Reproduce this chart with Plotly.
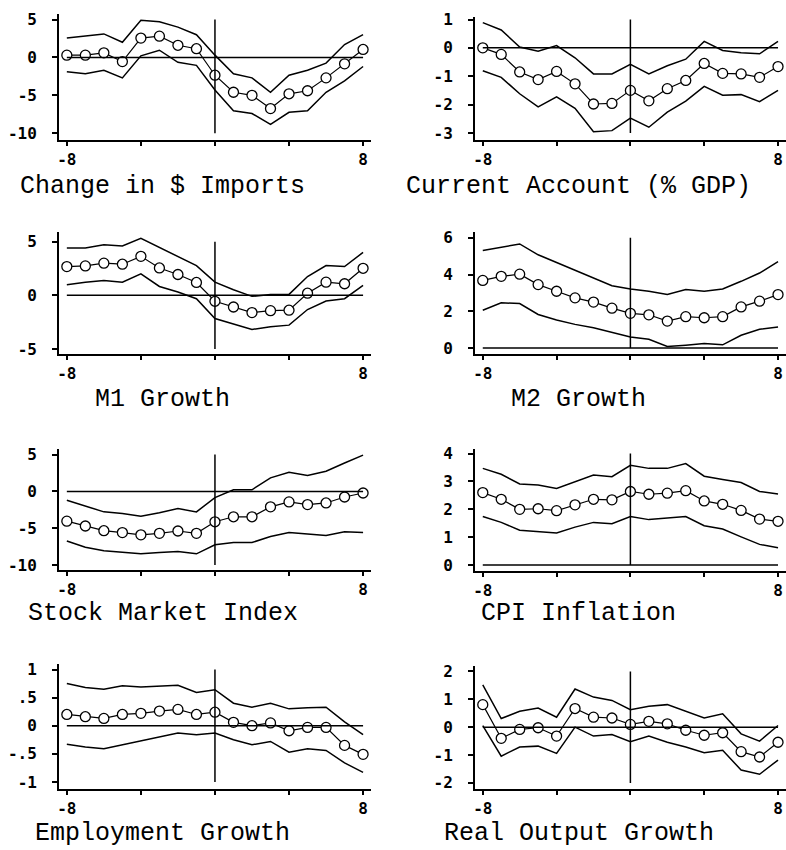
import plotly.graph_objects as go

# ---------------- data ----------------
horizon = list(range(-8, 9))

imports_mid = [0.3, 0.3, 0.6, -0.55, 2.55, 2.8, 1.6, 1.15, -2.35, -4.6, -5.0, -6.75, -4.8, -4.4, -2.7, -0.85, 1.05]
imports_hi = [2.55, 2.85, 3.1, 2.0, 4.9, 4.7, 4.0, 3.0, 0.3, -2.15, -2.7, -4.6, -2.35, -1.7, -0.75, 1.7, 3.0]
imports_lo = [-1.9, -2.15, -1.7, -2.7, 0.2, 0.95, -0.65, -1.05, -4.3, -7.05, -7.4, -8.85, -7.25, -7.05, -4.6, -3.1, -1.2]

ca_mid = [0.0, -0.23, -0.85, -1.12, -0.83, -1.27, -1.98, -1.96, -1.5, -1.87, -1.44, -1.15, -0.55, -0.9, -0.92, -1.04, -0.66]
ca_hi = [0.89, 0.63, 0.03, -0.12, 0.08, -0.35, -0.92, -0.92, -0.58, -0.92, -0.63, -0.4, 0.23, -0.09, -0.17, -0.21, 0.23]
ca_lo = [-0.81, -1.04, -1.62, -2.08, -1.73, -2.13, -2.96, -2.92, -2.48, -2.8, -2.27, -1.88, -1.36, -1.67, -1.65, -1.9, -1.5]

m1_mid = [2.68, 2.74, 3.0, 2.9, 3.63, 2.55, 1.94, 1.2, -0.55, -1.08, -1.6, -1.42, -1.38, 0.2, 1.23, 1.08, 2.52]
m1_hi = [4.4, 4.4, 4.7, 4.6, 5.3, 4.46, 3.6, 2.77, 1.23, 0.52, -0.09, 0.09, 0.09, 1.75, 2.77, 2.68, 4.0]
m1_lo = [0.98, 1.23, 1.38, 1.23, 2.0, 0.83, 0.31, -0.31, -2.15, -2.68, -3.17, -2.92, -2.77, -1.32, -0.52, -0.31, 0.92]

m2_mid = [3.68, 3.9, 4.02, 3.45, 3.09, 2.73, 2.5, 2.17, 1.89, 1.81, 1.47, 1.71, 1.65, 1.71, 2.24, 2.55, 2.91]
m2_hi = [5.3, 5.48, 5.66, 5.07, 4.65, 4.22, 3.81, 3.39, 3.21, 3.09, 2.91, 3.18, 3.09, 3.21, 3.63, 4.08, 4.7]
m2_lo = [2.06, 2.46, 2.42, 1.83, 1.53, 1.29, 1.11, 0.88, 0.61, 0.48, 0.09, 0.16, 0.25, 0.18, 0.7, 1.02, 1.15]

stock_mid = [-4.04, -4.7, -5.34, -5.6, -5.9, -5.7, -5.38, -5.7, -4.13, -3.45, -3.45, -2.1, -1.43, -1.79, -1.57, -0.76, -0.22]
stock_hi = [-1.21, -2.0, -2.78, -3.0, -3.36, -2.9, -2.33, -2.78, -0.85, 0.22, 0.22, 1.84, 2.6, 2.15, 2.74, 3.86, 4.93]
stock_lo = [-6.73, -7.58, -8.07, -8.3, -8.48, -8.3, -8.16, -8.48, -7.26, -6.95, -6.95, -6.14, -5.6, -5.78, -6.0, -5.47, -5.6]

cpi_mid = [2.6, 2.36, 2.0, 2.02, 1.95, 2.16, 2.36, 2.34, 2.64, 2.54, 2.58, 2.67, 2.3, 2.18, 1.96, 1.65, 1.57]
cpi_hi = [3.47, 3.26, 2.91, 2.87, 2.75, 2.99, 3.23, 3.17, 3.58, 3.47, 3.47, 3.64, 3.19, 3.07, 2.96, 2.64, 2.55]
cpi_lo = [1.74, 1.53, 1.25, 1.19, 1.15, 1.36, 1.53, 1.48, 1.74, 1.63, 1.69, 1.74, 1.41, 1.29, 1.01, 0.74, 0.62]

emp_mid = [0.2, 0.16, 0.13, 0.2, 0.22, 0.26, 0.29, 0.2, 0.24, 0.06, 0.0, 0.05, -0.09, -0.03, -0.03, -0.35, -0.51]
emp_hi = [0.75, 0.68, 0.65, 0.71, 0.69, 0.71, 0.72, 0.59, 0.64, 0.4, 0.33, 0.4, 0.3, 0.32, 0.33, 0.07, -0.16]
emp_lo = [-0.33, -0.38, -0.41, -0.34, -0.27, -0.19, -0.13, -0.16, -0.13, -0.25, -0.34, -0.28, -0.47, -0.41, -0.44, -0.66, -0.83]

out_mid = [0.81, -0.4, -0.08, -0.02, -0.32, 0.67, 0.36, 0.33, 0.1, 0.21, 0.12, -0.11, -0.29, -0.2, -0.88, -1.07, -0.54]
out_hi = [1.52, 0.31, 0.57, 0.69, 0.36, 1.37, 1.08, 0.96, 0.63, 0.75, 0.81, 0.57, 0.33, 0.48, -0.24, -0.5, 0.06]
out_lo = [0.06, -1.04, -0.71, -0.68, -0.94, 0.0, -0.32, -0.26, -0.52, -0.32, -0.54, -0.71, -0.92, -0.83, -1.54, -1.69, -1.18]

titles = ["Change in $ Imports", "Current Account (% GDP)", "M1 Growth", "M2 Growth",
          "Stock Market Index", "CPI Inflation", "Employment Growth", "Real Output Growth"]

ytick_vals = [[5, 0, -5, -10], [1, 0, -1, -2, -3], [5, 0, -5], [6, 4, 2, 0],
              [5, 0, -5, -10], [4, 3, 2, 1, 0], [1, 0.5, 0, -0.5, -1], [2, 1, 0, -1, -2]]
ytick_text = [["5", "0", "-5", "-10"], ["1", "0", "-1", "-2", "-3"], ["5", "0", "-5"], ["6", "4", "2", "0"],
              ["5", "0", "-5", "-10"], ["4", "3", "2", "1", "0"], ["1", ".5", "0", "-.5", "-1"],
              ["2", "1", "0", "-1", "-2"]]
xtick_vals = [-8, -4, 0, 4, 8]
xtick_text = ["-8", "", "", "", "8"]

series = [(imports_mid, imports_hi, imports_lo), (ca_mid, ca_hi, ca_lo), (m1_mid, m1_hi, m1_lo),
          (m2_mid, m2_hi, m2_lo), (stock_mid, stock_hi, stock_lo), (cpi_mid, cpi_hi, cpi_lo),
          (emp_mid, emp_hi, emp_lo), (out_mid, out_hi, out_lo)]

# ---------------- layout geometry (pixels) ----------------
W, H = 786, 850
# column: (axis left px, px of x=-8, px of x=8, axis right px, title center px)
cols = [(57, 65, 362, 370, 161), (474, 482, 778, 786, 578)]
# panel: (top tick px, bottom tick px, axis top px, axis bottom px, title center y px)
rows_px = [(12.7, 128, 7, 135, 182), (12.7, 127.7, 10, 135, 182),
           (238, 347, 228, 352, 398), (234, 346, 228, 352, 398),
           (454, 566, 448, 571, 615), (453, 566, 448, 572, 615),
           (672, 786, 666, 793, 838), (674, 787, 668, 793, 838)]

LINE_W = 1.5
TICK_FONT = dict(family="DejaVu Sans Mono", size=16, color="black", weight="bold")
fig = go.Figure()
layout = dict(width=W, height=H, margin=dict(l=0, r=0, t=0, b=0),
              paper_bgcolor="white", plot_bgcolor="white", showlegend=False)
annotations = []
shapes = []

for i in range(8):
    axl, p8n, p8, axr, tcx = cols[i % 2]
    ptop_t, pbot_t, ptop, pbot, tcy = rows_px[i]
    vhi, vlo = ytick_vals[i][0], ytick_vals[i][-1]
    xs = (p8 - p8n) / 16.0
    xr = [-8 - (p8n - axl) / xs, 8 + (axr - p8) / xs]
    ys = (pbot_t - ptop_t) / (vhi - vlo)
    yr = [vlo - (pbot - pbot_t) / ys, vhi + (ptop_t - ptop) / ys]
    n = "" if i == 0 else str(i + 1)
    xa, ya = "x" + n, "y" + n
    layout["xaxis" + n] = dict(domain=[axl / W, min(axr / W, 1)], range=xr, anchor=ya,
                               showline=True, linecolor="black", linewidth=LINE_W,
                               showgrid=False, zeroline=False, ticks="outside", ticklen=4,
                               tickwidth=LINE_W, tickcolor="black",
                               tickvals=xtick_vals, ticktext=xtick_text,
                               tickfont=TICK_FONT, fixedrange=True)
    layout["yaxis" + n] = dict(domain=[1 - pbot / H, 1 - ptop / H], range=yr, anchor=xa,
                               showline=True, linecolor="black", linewidth=LINE_W,
                               showgrid=False, zeroline=False, ticks="outside", ticklen=5,
                               tickwidth=LINE_W, tickcolor="black",
                               tickvals=ytick_vals[i], ticktext=ytick_text[i],
                               ticklabelstandoff=12,
                               tickfont=TICK_FONT, fixedrange=True)
    mid, hi, lo = series[i]
    shapes.append(dict(type="line", xref=xa, yref=ya, x0=-8, x1=8, y0=0, y1=0,
                       line=dict(color="black", width=LINE_W)))
    shapes.append(dict(type="line", xref=xa, yref=ya, x0=0, x1=0, y0=vlo, y1=vhi,
                       line=dict(color="black", width=LINE_W)))
    for band in (hi, lo):
        fig.add_trace(go.Scatter(x=horizon, y=band, mode="lines", xaxis=xa, yaxis=ya,
                                 line=dict(color="black", width=LINE_W), hoverinfo="skip"))
    fig.add_trace(go.Scatter(x=horizon, y=mid, mode="lines+markers", xaxis=xa, yaxis=ya,
                             line=dict(color="black", width=1.2), cliponaxis=False,
                             marker=dict(symbol="circle", size=10, color="white",
                                         line=dict(color="black", width=1.3))))
    annotations.append(dict(text=titles[i], xref="paper", yref="paper", x=tcx / W, y=1 - tcy / H,
                            xanchor="center", yanchor="middle", showarrow=False,
                            font=dict(family="Liberation Mono", size=25, color="black")))

layout["annotations"] = annotations
layout["shapes"] = shapes
fig.update_layout(**layout)
fig.write_html("out.html", config={"displayModeBar": False},
               post_script="document.body.style.margin='0';document.body.style.overflow='hidden';")
